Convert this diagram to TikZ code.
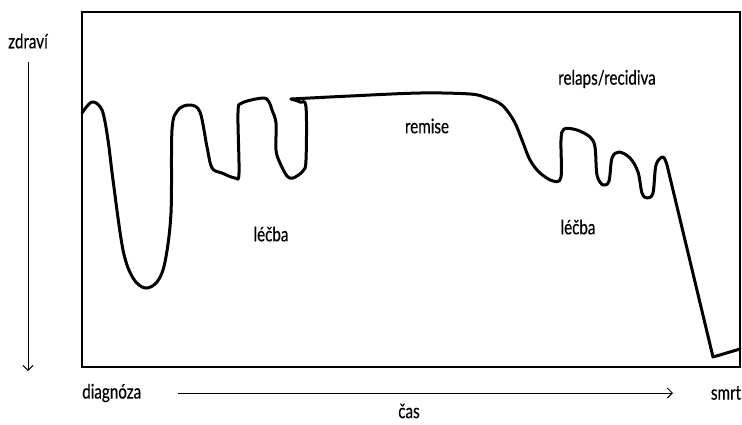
\documentclass[tikz,border=0pt]{standalone}
\usepackage{fontspec}
\setmainfont[FakeStretch=0.76,FakeBold=0.4]{Lato}
\usetikzlibrary{arrows.meta}
\begin{document}
\begin{tikzpicture}[x=1pt,y=-1pt,
  lbl/.style={inner sep=0pt,font=\fontsize{20}{23}\selectfont},
  frame/.style={line width=1.3pt},
  curve/.style={line width=3pt,line join=round,line cap=round},
  axis/.style={line width=0.9pt,-{Straight Barb[length=5pt,width=10pt]}}]
\useasboundingbox (0,0) rectangle (742,424);
\draw[frame] (82,12) rectangle (740,367);
% labels
\node[lbl] (zdravi) at (28,41) {zdraví};
\node[lbl,anchor=west] (diag) at (82,393) {diagnóza};
\node[lbl] (smrt) at (726,393) {smrt};
\node[lbl] (cas) at (409,411) {čas};
\node[lbl] (remise) at (427,126) {remise};
\node[lbl] (relaps) at (607,79) {relaps/recidiva};
\node[lbl] (lecba1) at (271,234) {léčba};
\node[lbl] (lecba2) at (578,227) {léčba};
% axes
\coordinate (vtop) at (28,62);
\coordinate (vbot) at (28,371);
\coordinate (hl) at (178,393);
\coordinate (hr) at (673,393);
\draw[axis] (vtop) -- (vbot);
\draw[axis] (hl) -- (hr);
% health curve
\draw[curve] plot[smooth,tension=0.55] coordinates {
 (82,113) (92,102) (102,110) (108,140) (113,180) (123,250) (133,278) (145,288)
 (157,282) (165,262) (171,213) (172,130) (178,110) (190,105) (200,112) (207,147)
 (212,168) (222,173) (235,178) (239,173) (238,113) (242,103) (263,98) (269,102)
 (272,110) (276,123) (276,150) (280,163) (287,176) (293,178) (303,171) (306,160)
 (306,107) (300,102) (291,99)};
\draw[curve] plot[smooth,tension=0.55] coordinates {
 (291,99) (350,96) (420,93) (470,94) (487,98) (502,105) (514,121) (522,140)
 (530,160) (540,173) (553,181) (561,177) (561,140) (564,129) (577,130) (590,137)
 (595,147) (597,175) (603,185) (609,181) (612,158) (619,152) (630,158) (638,172)
 (642,193) (647,198) (653,193) (656,165) (663,157) (667,165)}
 -- (713,357) -- (740,349);
\end{tikzpicture}
\end{document}
